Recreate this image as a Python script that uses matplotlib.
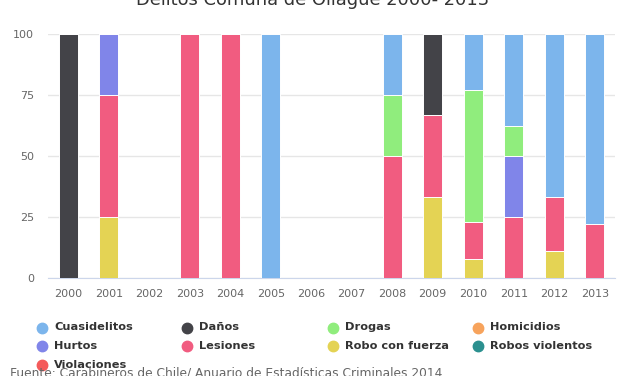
import matplotlib
matplotlib.use("Agg")
import matplotlib.pyplot as plt
from matplotlib.lines import Line2D
import numpy as np

years = ["2000", "2001", "2002", "2003", "2004", "2005", "2006",
         "2007", "2008", "2009", "2010", "2011", "2012", "2013"]

series_names = ["Cuasidelitos", "Daños", "Drogas", "Homicidios", "Hurtos",
                "Lesiones", "Robo con fuerza", "Robos violentos", "Violaciones"]
colors = ["#7cb5ec", "#434348", "#90ed7d", "#f7a35c", "#8085e9",
          "#f15c80", "#e4d354", "#2b908f", "#f45b5b"]

cuasidelitos = [0, 0, 0, 0, 0, 100, 0, 0, 25, 0, 23.1, 37.5, 66.7, 77.8]
danos = [100, 0, 0, 0, 0, 0, 0, 0, 0, 33.3, 0, 0, 0, 0]
drogas = [0, 0, 0, 0, 0, 0, 0, 0, 25, 0, 53.8, 12.5, 0, 0]
homicidios = [0] * 14
hurtos = [0, 25, 0, 0, 0, 0, 0, 0, 0, 0, 0, 25, 0, 0]
lesiones = [0, 50, 0, 100, 100, 0, 0, 0, 50, 33.3, 15.4, 25, 22.2, 22.2]
robo_fuerza = [0, 25, 0, 0, 0, 0, 0, 0, 0, 33.4, 7.7, 0, 11.1, 0]
robos_violentos = [0] * 14
violaciones = [0] * 14

data = [cuasidelitos, danos, drogas, homicidios, hurtos, lesiones,
        robo_fuerza, robos_violentos, violaciones]

title = "Delitos Comuna de Ollagüe 2000- 2013"
source = "Fuente: Carabineros de Chile/ Anuario de Estadísticas Criminales 2014"

W, H = 627, 376
fig = plt.figure(figsize=(W / 100, H / 100), dpi=100)
plt.rcParams['font.family'] = ['DejaVu Sans']

left, right, top, bottom = 48, 615, 34, 278
ax = fig.add_axes([left / W, 1 - bottom / H, (right - left) / W, (bottom - top) / H])

x = np.arange(len(years))
base = np.zeros(len(years))
# stack bottom-up: last series at bottom
for name, col, vals in reversed(list(zip(series_names, colors, data))):
    v = np.array(vals, dtype=float)
    ax.bar(x, v, bottom=base, width=0.47, color=col, edgecolor="white",
           linewidth=0.7, zorder=3)
    base += v

ax.set_xlim(-0.5, len(years) - 0.5)
ax.set_ylim(0, 100)
ax.set_yticks([0, 25, 50, 75, 100])
ax.set_xticks(x)
ax.set_xticklabels(years)
ax.grid(axis="y", color="#e6e6e6", linewidth=1, zorder=0)
for s in ["top", "right", "left"]:
    ax.spines[s].set_visible(False)
ax.spines["bottom"].set_color("#ccd6eb")
ax.tick_params(axis="both", length=0, colors="#666666", labelsize=8)
ax.tick_params(axis="y", pad=10)
ax.tick_params(axis="x", pad=8)

# title (partly cut off at top)
fig.text(313 / W, 1 - 5 / H, title, ha="center", va="baseline",
         fontsize=12.9, color="#333333")

# legend
col_marker = [42, 187, 333, 478]
col_text = [54, 199, 345, 490]
row_y = [327.5, 346, 364.5]
for i, (name, col) in enumerate(zip(series_names, colors)):
    r, c = divmod(i, 4)
    fig.add_artist(Line2D([col_marker[c] / W], [1 - row_y[r] / H], marker="o",
                          markersize=7.5, color=col, linestyle="none",
                          transform=fig.transFigure))
    fig.text(col_text[c] / W, 1 - row_y[r] / H, name, ha="left", va="center",
             fontsize=8.2, fontweight="bold", color="#333333")

fig.text(10 / W, 1 - 377 / H, source, ha="left", va="baseline",
         fontsize=8.8, color="#666666")

fig.savefig("out.png", dpi=100)
